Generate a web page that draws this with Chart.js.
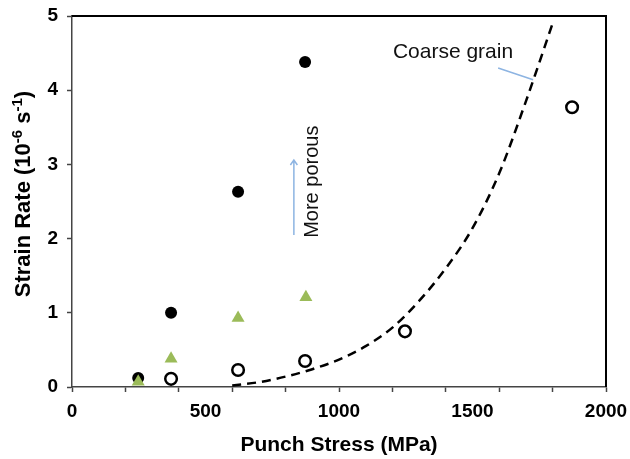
<!DOCTYPE html>
<html>
<head>
<meta charset="utf-8">
<script src="https://cdn.jsdelivr.net/npm/chart.js@4/dist/chart.umd.min.js"></script>
<style>
  body { margin: 0; background: #fff; }
  #wrap { width: 630px; height: 459px; }
</style>
</head>
<body>
<div id="wrap"><canvas id="strainChart"></canvas></div>
<script>
// Punch stress (MPa) / strain rate (10^-6 s^-1)
const denseX = [248, 371, 622, 873];
const denseY = [0.12, 1.0, 2.63, 4.38];

const midX = [248, 371, 622, 876];
const midY = [0.07, 0.38, 0.93, 1.21];

const openX = [371, 622, 873, 1247, 1873];
const openY = [0.11, 0.23, 0.35, 0.75, 3.77];

// coarse grain fit curve
const curveX = [600, 700, 800, 900, 1000, 1100, 1200, 1300, 1400, 1500, 1600, 1700, 1800];
const curveY = [0.02, 0.065, 0.14, 0.24, 0.37, 0.55, 0.8, 1.16, 1.6, 2.14, 2.88, 3.85, 4.9];

const xTicks = [0, 500, 1000, 1500, 2000];
const yTicks = [0, 1, 2, 3, 4, 5];

const FONT = '"Liberation Sans", Arial, sans-serif';
const NOTE_BLUE = '#8db4e2';

function toPoints(xs, ys) {
    return xs.map((x, i) => ({ x: x, y: ys[i] }));
}

// annotation anchors in data units
const notes = {
    coarse: { x: 1427, y: 4.51 },
    coarseLine: [{ x: 1596, y: 4.30 }, { x: 1727, y: 4.14 }],
    arrow: [{ x: 831, y: 2.05 }, { x: 831, y: 3.06 }],
    porous: { x: 921, y: 2.01 },
    yTitle: 2.6
};

const extras = {
    id: 'extras',
    afterDraw(chart) {
        const ctx = chart.ctx;
        const xs = chart.scales.x;
        const ys = chart.scales.y;
        const a = chart.chartArea;
        const px = p => [xs.getPixelForValue(p.x), ys.getPixelForValue(p.y)];

        ctx.save();
        // top and right frame
        ctx.strokeStyle = '#000';
        ctx.lineWidth = 2;
        ctx.beginPath();
        ctx.moveTo(a.left, a.top);
        ctx.lineTo(a.right, a.top);
        ctx.lineTo(a.right, a.bottom);
        ctx.stroke();

        // "Coarse grain" label and leader
        ctx.fillStyle = '#111';
        ctx.font = '21px ' + FONT;
        ctx.textAlign = 'center';
        ctx.textBaseline = 'middle';
        let p = px(notes.coarse);
        ctx.fillText('Coarse grain', p[0], p[1]);

        ctx.strokeStyle = NOTE_BLUE;
        ctx.lineWidth = 1.5;
        let p1 = px(notes.coarseLine[0]), p2 = px(notes.coarseLine[1]);
        ctx.beginPath();
        ctx.moveTo(p1[0], p1[1]);
        ctx.lineTo(p2[0], p2[1]);
        ctx.stroke();

        // "More porous" arrow
        p1 = px(notes.arrow[0]);
        p2 = px(notes.arrow[1]);
        ctx.beginPath();
        ctx.moveTo(p1[0], p1[1]);
        ctx.lineTo(p2[0], p2[1]);
        ctx.moveTo(p2[0] - 3.5, p2[1] + 5);
        ctx.lineTo(p2[0], p2[1]);
        ctx.lineTo(p2[0] + 3.5, p2[1] + 5);
        ctx.stroke();

        p = px(notes.porous);
        ctx.translate(p[0], p[1]);
        ctx.rotate(-Math.PI / 2);
        ctx.textAlign = 'left';
        ctx.textBaseline = 'alphabetic';
        ctx.font = '20px ' + FONT;
        ctx.fillStyle = '#111';
        ctx.fillText('More porous', 0, 0);
        ctx.restore();

        // y axis title with superscripts
        ctx.save();
        const parts = [
            ['Strain Rate (10', false],
            ['-6', true],
            [' s', false],
            ['-1', true],
            [')', false]
        ];
        const big = 'bold 22px ' + FONT;
        const small = 'bold 15px ' + FONT;
        let total = 0;
        parts.forEach(t => {
            ctx.font = t[1] ? small : big;
            total += ctx.measureText(t[0]).width;
        });
        const cy = ys.getPixelForValue(notes.yTitle);
        ctx.translate(30, cy);
        ctx.rotate(-Math.PI / 2);
        ctx.fillStyle = '#000';
        ctx.textAlign = 'left';
        ctx.textBaseline = 'alphabetic';
        let cx = -total / 2;
        parts.forEach(t => {
            ctx.font = t[1] ? small : big;
            ctx.fillText(t[0], cx, t[1] ? -8 : 0);
            cx += ctx.measureText(t[0]).width;
        });
        ctx.restore();
    }
};

const ctx = document.getElementById('strainChart').getContext('2d');
const strainChart = new Chart(ctx, {
    type: 'scatter',
    data: {
        datasets: [
            {
                label: 'Coarse grain',
                data: toPoints(curveX, curveY),
                order: 4,
                showLine: true,
                cubicInterpolationMode: 'monotone',
                borderColor: '#000',
                borderWidth: 2.5,
                borderDash: [9, 6],
                pointRadius: 0,
                fill: false
            },
            {
                label: 'Porous',
                data: toPoints(denseX, denseY),
                order: 3,
                pointStyle: 'circle',
                pointRadius: 6,
                backgroundColor: '#000',
                borderColor: '#000',
                borderWidth: 0
            },
            {
                label: 'Medium',
                data: toPoints(midX, midY),
                order: 2,
                pointStyle: 'triangle',
                pointRadius: 7.5,
                backgroundColor: '#9bbb59',
                borderColor: '#9bbb59',
                borderWidth: 0
            },
            {
                label: 'Dense',
                data: toPoints(openX, openY),
                order: 1,
                pointStyle: 'circle',
                pointRadius: 5.8,
                backgroundColor: '#fff',
                borderColor: '#000',
                borderWidth: 2.5
            }
        ]
    },
    options: {
        responsive: true,
        maintainAspectRatio: false,
        animation: false,
        layout: { padding: { top: 16, right: 24, left: 0, bottom: 0 } },
        plugins: {
            legend: { display: false },
            tooltip: { enabled: false }
        },
        scales: {
            x: {
                type: 'linear',
                min: 0,
                max: 2000,
                afterFit: scale => {
                    scale.height = 72;
                    scale.paddingLeft = 0;
                    scale.paddingRight = 0;
                },
                afterBuildTicks: scale => {
                    const t = [];
                    for (let v = 0; v <= 2000; v += 100) t.push({ value: v });
                    scale.ticks = t;
                },
                border: { color: '#444', width: 1.5 },
                grid: {
                    drawOnChartArea: false,
                    drawTicks: true,
                    tickLength: 5,
                    tickWidth: 1.5,
                    tickColor: c => (c.tick && c.tick.value % 200 === 0) ? '#444' : 'rgba(0,0,0,0)'
                },
                ticks: {
                    autoSkip: false,
                    maxRotation: 0,
                    padding: 8,
                    color: '#000',
                    font: { family: FONT, size: 19, weight: 'bold' },
                    callback: v => xTicks.includes(v) ? String(v) : ''
                },
                title: {
                    display: true,
                    text: 'Punch Stress (MPa)',
                    color: '#000',
                    font: { family: FONT, size: 21, weight: 'bold' },
                    padding: { top: 0, bottom: 1 }
                }
            },
            y: {
                type: 'linear',
                min: 0,
                max: 5,
                afterFit: scale => {
                    scale.width = 72;
                    scale.paddingTop = 0;
                    scale.paddingBottom = 0;
                },
                afterBuildTicks: scale => {
                    scale.ticks = yTicks.map(v => ({ value: v }));
                },
                border: { color: '#444', width: 1.5 },
                grid: {
                    drawOnChartArea: false,
                    drawTicks: true,
                    tickLength: 5,
                    tickWidth: 1.5,
                    tickColor: '#444'
                },
                ticks: {
                    padding: 9,
                    color: '#000',
                    font: { family: FONT, size: 19, weight: 'bold' }
                }
            }
        }
    },
    plugins: [extras]
});
</script>
</body>
</html>
